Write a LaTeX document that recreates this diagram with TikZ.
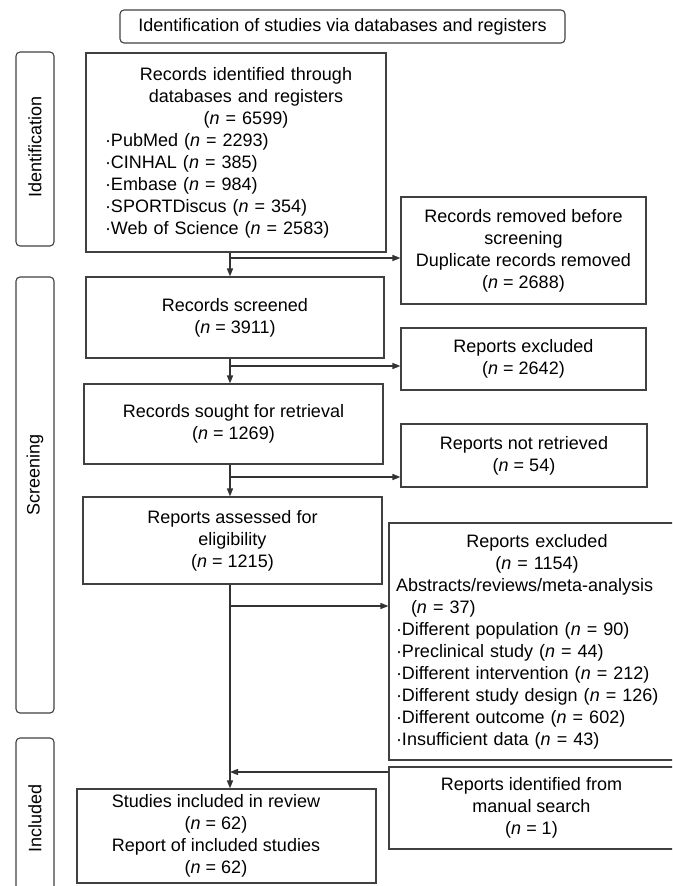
\documentclass[tikz,border=0pt]{standalone}
\usepackage{fontspec}
\setmainfont{Liberation Sans}
\usetikzlibrary{arrows.meta}

\begin{document}
\begin{tikzpicture}[x=1pt,y=-1pt,
  every node/.style={font=\fontsize{18pt}{22pt}\selectfont, inner sep=0pt},
  box/.style={draw=black!75, line width=1.1pt, align=center},
  side/.style={draw=black!75, line width=1.1pt, rounded corners=4pt, minimum width=38pt},
  arr/.style={draw=black!80, line width=1.3pt, -{Triangle[length=8pt,width=6pt]}}]
\useasboundingbox (0,0) rectangle (672,886);
\clip (0,0) rectangle (672,886);
\node[box, rounded corners=4pt, minimum width=445pt, minimum height=33pt] (title) at (342.5,26.5)
  {Identification of studies via databases and registers};
\foreach \nm/\y/\h/\ly/\lab in {idn/149/194/147/Identification, scr/495/436/475/Screening, inc/819/162/818/Included} {
  \node[side, minimum height=\h pt] (\nm) at (35,\y) {};
  \node[rotate=90] (\nm-lab) at (35,\ly) {\lab};
}
\node[box, align=left, text width=262pt, minimum width=300pt, minimum height=199pt] (box1) at (236,152.5)
  {\centering\leftskip=20pt plus 1fil Records identified through\\ databases and registers\\ (\textit{n} = 6599)\par
   \leftskip=0pt\raggedright ·PubMed (\textit{n} = 2293)\\ ·CINHAL (\textit{n} = 385)\\ ·Embase (\textit{n} = 984)\\
   ·SPORTDiscus (\textit{n} = 354)\\ ·Web of Science (\textit{n} = 2583)};
\node[box, minimum width=245pt, minimum height=107pt] (rem) at (523.5,250.5)
  {Records removed before\\ screening\\ Duplicate records removed\\ (\textit{n} = 2688)};
\node[box, minimum width=298pt, minimum height=81pt] (box2) at (235,317.5)
  {Records screened\\ (\textit{n} = 3911)};
\node[box, minimum width=245pt, minimum height=62pt] (exa) at (523.5,359)
  {Reports excluded\\ (\textit{n} = 2642)};
\node[box, minimum width=299pt, minimum height=80pt] (box3) at (233.5,424)
  {Records sought for retrieval\\ (\textit{n} = 1269)};
\node[box, minimum width=246pt, minimum height=63pt] (nrt) at (524,455.5)
  {Reports not retrieved\\ (\textit{n} = 54)};
\node[box, minimum width=299pt, minimum height=87pt] (box4) at (232.5,540.5)
  {Reports assessed for\\ eligibility\\ (\textit{n} = 1215)};
\node[box, align=left, text width=282pt, minimum width=296pt, minimum height=237pt] (exb) at (537,641.5)
  {\centering Reports excluded\\ (\textit{n} = 1154)\par
   \raggedright Abstracts/reviews/meta-analysis\\ \hspace*{15pt}(\textit{n} = 37)\\
   ·Different population (\textit{n} = 90)\\ ·Preclinical study (\textit{n} = 44)\\
   ·Different intervention (\textit{n} = 212)\\ ·Different study design (\textit{n} = 126)\\
   ·Different outcome (\textit{n} = 602)\\ ·Insufficient data (\textit{n} = 43)};
\node[box, minimum width=285pt, minimum height=82pt] (man) at (531.5,808)
  {Reports identified from\\ manual search\\ (\textit{n} = 1)};
\node[box, minimum width=299pt, minimum height=94pt] (box5) at (226.5,836)
  {\begin{tabular}{@{}c@{\hspace{21pt}}}Studies included in review\\ (\textit{n} = 62)\\ Report of included studies\\ (\textit{n} = 62)\end{tabular}};
\coordinate (b1) at (230,258);
\coordinate (b2) at (230,366);
\coordinate (b3) at (230,477);
\coordinate (b4) at (230,606);
\coordinate (m1) at (230,772);
\foreach \a/\b/\c in {box1/box2/b1, box2/box3/b2, box3/box4/b3, box4/box5/b4} {
  \draw[arr] (\a.south -| \c) -- (\b.north -| \c);
}
\foreach \c/\t in {b1/rem, b2/exa, b3/nrt, b4/exb} {
  \draw[arr] (\c) -- (\c -| \t.west);
}
\draw[arr] (m1 -| man.west) -- (m1);
\end{tikzpicture}
\end{document}
